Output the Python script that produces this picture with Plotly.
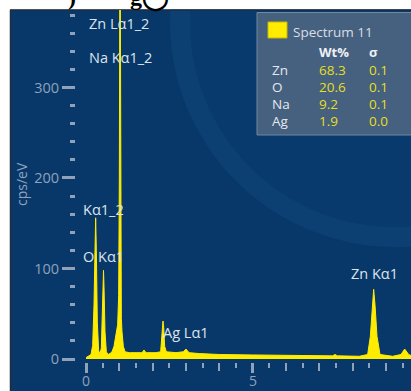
import plotly.graph_objects as go

# ---------------- data ----------------
energy_kev = [0.00, 0.08, 0.15, 0.20, 0.24, 0.27, 0.29, 0.31, 0.34, 0.38,
              0.42, 0.46, 0.49, 0.515, 0.525, 0.54, 0.57, 0.61, 0.66, 0.72,
              0.78, 0.84, 0.88, 0.92, 0.95, 0.98, 1.00, 1.02, 1.04, 1.06,
              1.08, 1.12, 1.17, 1.30, 1.50, 1.66, 1.71, 1.74, 1.77, 1.82,
              2.10, 2.24, 2.28, 2.31, 2.33, 2.36, 2.41, 2.70, 2.92, 2.97,
              3.00, 3.04, 3.10, 3.40, 4.00, 5.00, 6.00, 7.00, 7.40, 7.47,
              7.54, 8.20, 8.45, 8.53, 8.59, 8.63, 8.67, 8.73, 8.82, 9.20,
              9.45, 9.52, 9.56, 9.60, 9.68, 9.80, 10.00]
counts_cps = [1.5, 3, 5, 15, 60, 120, 156, 120, 40, 9,
              6, 12, 50, 90, 98, 80, 30, 8, 5, 6,
              8, 14, 22, 31, 38, 70, 200, 520, 200, 45,
              30, 14, 8, 7, 7, 7, 8, 10, 8, 7,
              7, 8, 28, 42, 35, 14, 8, 7, 8, 10,
              11, 9, 7, 6, 5, 4.5, 4, 3.5, 3.5, 5,
              3.5, 3, 5, 25, 60, 77, 60, 25, 5, 3,
              5, 9, 11, 9, 5, 3, 3]

peak_labels = ["Zn Lα1_2", "Na Kα1_2", "Kα1_2", "O Kα1", "Ag Lα1", "Zn Kα1"]
peak_label_x = [0.02, 0.02, -0.16, -0.16, 2.24, 7.88]
peak_label_y = [371, 333, 165, 113, 29, 94]

elements = ["Zn", "O", "Na", "Ag"]
wt_pct = ["68.3", "20.6", "9.2", "1.9"]
sigma = ["0.1", "0.1", "0.1", "0.0"]
spectrum_name = "Spectrum 11"

y_tick_vals = [0, 100, 200, 300]
x_label_vals = [0, 5]
x_int_ticks = list(range(0, 10))

# ---------------- layout helpers (pixel -> paper) ----------------
W, H = 411, 391
ML, MR, MT, MB = 76, 0, 10, 29
PW, PH = W - ML - MR, H - MT - MB


def px(x):
    return (x - ML) / PW


def py(y):
    return (H - MB - y) / PH


BASE = "#08386a"
RING = "#0c3f72"
INNER = "#093a6d"
TICK = "#8fa2ba"
LABEL = "#dde3ea"
YELLOW = "#ffec00"
FONT = "Open Sans"

fig = go.Figure()
fig.add_trace(go.Scatter(
    x=energy_kev, y=counts_cps, mode="lines", fill="tozeroy",
    line=dict(color=YELLOW, width=1), fillcolor=YELLOW,
    hoverinfo="skip", showlegend=False))
# helper trace so the second x axis (long ticks at 0 and 5) is drawn
fig.add_trace(go.Scatter(
    x=energy_kev, y=counts_cps, xaxis="x2", mode="none",
    hoverinfo="skip", showlegend=False))

shapes = []
# panel background
shapes.append(dict(type="rect", xref="paper", yref="paper", layer="below",
                   x0=px(10), x1=px(430), y0=py(400), y1=py(9.5),
                   fillcolor=BASE, line=dict(width=0)))
# soft ring in the background
cx, cy, r_out, r_in = 395, 22, 225, 205
shapes.append(dict(type="circle", xref="paper", yref="paper", layer="below",
                   x0=px(cx - r_out), x1=px(cx + r_out),
                   y0=py(cy + r_out), y1=py(cy - r_out),
                   fillcolor=RING, line=dict(width=0)))
shapes.append(dict(type="circle", xref="paper", yref="paper", layer="below",
                   x0=px(cx - r_in), x1=px(cx + r_in),
                   y0=py(cy + r_in), y1=py(cy - r_in),
                   fillcolor=INNER, line=dict(width=0)))
# white page strips (top / left)
shapes.append(dict(type="rect", xref="paper", yref="paper", layer="below",
                   x0=px(-20), x1=px(430), y0=py(9.5), y1=py(-300),
                   fillcolor="white", line=dict(width=0)))
shapes.append(dict(type="rect", xref="paper", yref="paper", layer="below",
                   x0=px(-20), x1=px(10), y0=py(400), y1=py(9.5),
                   fillcolor="white", line=dict(width=0)))
# panel border
shapes.append(dict(type="line", xref="paper", yref="paper", layer="below",
                   x0=px(10), x1=px(430), y0=py(10), y1=py(10),
                   line=dict(color="#1e2c3c", width=1.5)))
shapes.append(dict(type="line", xref="paper", yref="paper", layer="below",
                   x0=px(10.5), x1=px(10.5), y0=py(400), y1=py(10),
                   line=dict(color="#1e2c3c", width=1.5)))
# results box
shapes.append(dict(type="rect", xref="paper", yref="paper", layer="below",
                   x0=px(257), x1=px(430), y0=py(135), y1=py(12.5),
                   fillcolor="#46617f", line=dict(color="#6f88a3", width=1)))
shapes.append(dict(type="rect", xref="paper", yref="paper", layer="below",
                   x0=px(268), x1=px(287), y0=py(38), y1=py(22),
                   fillcolor=YELLOW, line=dict(color="#c9b800", width=1)))

ann = []
for t, x, y in zip(peak_labels, peak_label_x, peak_label_y):
    ann.append(dict(text=t, x=x, y=y, xref="x", yref="y", xanchor="left",
                    yanchor="middle", showarrow=False,
                    font=dict(family=FONT, size=14.5, color=LABEL)))
# x tick labels (kept inside the picture's bottom edge)
for v in x_label_vals:
    ann.append(dict(text=str(v), x=v, y=py(391), xref="x", yref="paper",
                    xanchor="center", yanchor="bottom", showarrow=False,
                    borderpad=0,
                    font=dict(family=FONT, size=14, color=TICK)))
# axis title
ann.append(dict(text="cps/eV", x=px(22), y=py(184), xref="paper", yref="paper",
                textangle=-90, showarrow=False, xanchor="center", yanchor="middle",
                font=dict(family=FONT, size=14, color=TICK)))
# results box text
ann.append(dict(text=spectrum_name, x=px(291), y=py(32), xref="paper", yref="paper",
                xanchor="left", yanchor="middle", showarrow=False,
                font=dict(family=FONT, size=13.5, color="#d8dee6")))
ann.append(dict(text="<b>Wt%</b>", x=px(317), y=py(52), xref="paper", yref="paper",
                xanchor="left", yanchor="middle", showarrow=False,
                font=dict(family=FONT, size=13, color="#eef1f5")))
ann.append(dict(text="<b>σ</b>", x=px(367), y=py(52), xref="paper", yref="paper",
                xanchor="left", yanchor="middle", showarrow=False,
                font=dict(family=FONT, size=13, color="#eef1f5")))
for i, (e, w, s) in enumerate(zip(elements, wt_pct, sigma)):
    yy = py(70 + i * 17)
    ann.append(dict(text=e, x=px(270), y=yy, xref="paper", yref="paper",
                    xanchor="left", yanchor="middle", showarrow=False,
                    font=dict(family=FONT, size=13.5, color="#e4e8ee")))
    ann.append(dict(text=w, x=px(317), y=yy, xref="paper", yref="paper",
                    xanchor="left", yanchor="middle", showarrow=False,
                    font=dict(family=FONT, size=13.5, color="#e6df1e")))
    ann.append(dict(text=s, x=px(367), y=yy, xref="paper", yref="paper",
                    xanchor="left", yanchor="middle", showarrow=False,
                    font=dict(family=FONT, size=13.5, color="#e6df1e")))
# cut-off caption text at the very top (only its lower edge is visible)
ann.append(dict(text="<b>)</b>", x=px(66), y=py(12), xref="paper", yref="paper",
                xanchor="left", yanchor="bottom", showarrow=False,
                font=dict(family="Liberation Serif", size=24, color="black")))
ann.append(dict(text="<b>g◯</b>", x=px(128), y=py(14), xref="paper", yref="paper",
                xanchor="left", yanchor="bottom", showarrow=False,
                font=dict(family="Liberation Serif", size=24, color="black")))

x_range = [-0.3, 9.75]
fig.update_layout(
    width=W, height=H, autosize=False,
    margin=dict(l=ML, r=MR, t=MT, b=MB, pad=0, autoexpand=False),
    paper_bgcolor="white", plot_bgcolor="rgba(0,0,0,0)",
    shapes=shapes, annotations=ann, showlegend=False,
    xaxis=dict(range=x_range, showgrid=False, zeroline=False, showline=False,
               automargin=False,
               tickmode="array", tickvals=x_int_ticks, showticklabels=False,
               ticks="outside", ticklen=8, tickwidth=2, tickcolor=TICK,
               minor=dict(dtick=0.5, tick0=0, ticks="outside", ticklen=5,
                          tickwidth=2, tickcolor=TICK, showgrid=False)),
    xaxis2=dict(range=x_range, overlaying="x", anchor="y", side="bottom",
                showgrid=False, zeroline=False, showline=False, automargin=False,
                tickmode="array", tickvals=x_label_vals, showticklabels=False,
                ticks="outside", ticklen=10, tickwidth=2.5, tickcolor=TICK),
    yaxis=dict(range=[-3.3, 385.6], showgrid=False, zeroline=False, showline=False,
               automargin=False,
               tickmode="array", tickvals=y_tick_vals,
               ticks="outside", ticklen=13, tickwidth=2.5, tickcolor=TICK,
               ticklabelstandoff=0,
               tickfont=dict(family=FONT, size=14.5, color=TICK),
               minor=dict(dtick=20, tick0=0, ticks="outside", ticklen=5,
                          tickwidth=2.5, tickcolor=TICK, showgrid=False)),
)

fig.write_html("out.html")
